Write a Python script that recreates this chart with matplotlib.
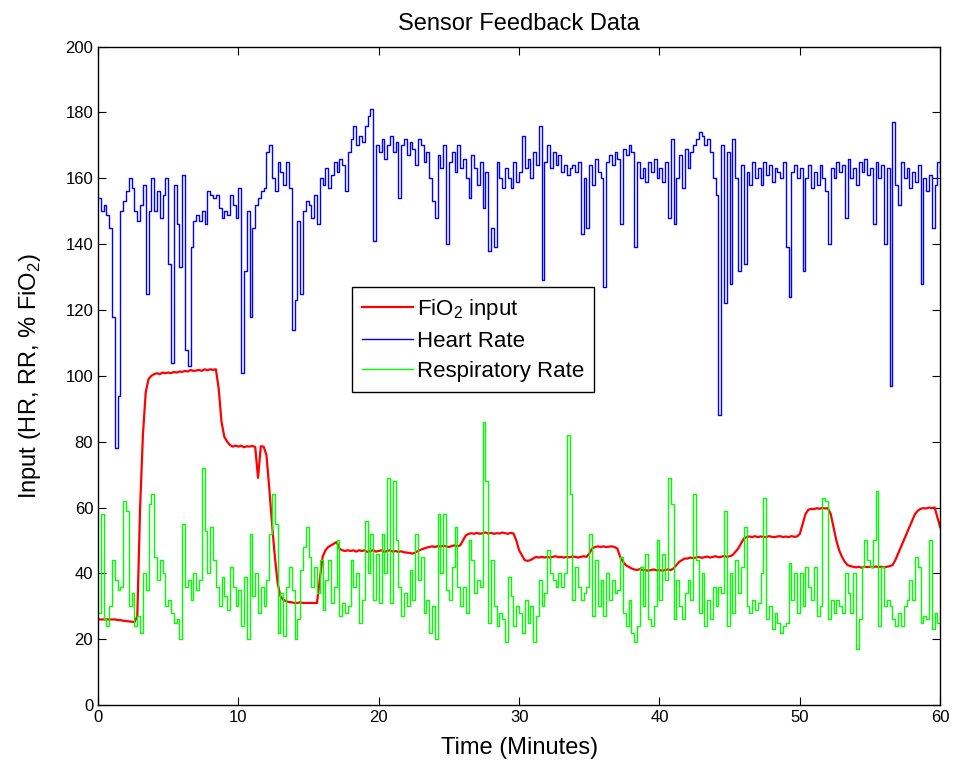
import numpy as np
import matplotlib
matplotlib.use("Agg")
import matplotlib.pyplot as plt

plt.rcParams['font.family'] = ['Liberation Sans', 'DejaVu Sans']
plt.rcParams['mathtext.fontset'] = 'custom'
plt.rcParams['mathtext.rm'] = 'Liberation Sans'

# samples every 0.2 minutes, 0 .. 60
SAMPLE_STEP = 0.2
N_SAMPLES = 301

# FiO2 input (%), one row per minute
fio2 = [
    26, 26, 26, 26, 26,
    26, 26, 25.8, 25.8, 25.6,
    25.5, 25.4, 25.3, 25.2, 27,
    60, 82, 95, 99, 100,
    100.5, 100.8, 100.5, 101, 100.8,
    101, 100.8, 101.2, 101, 101.3,
    101.2, 101.5, 101.3, 101.8, 101.5,
    101.6, 101.8, 101.5, 102, 101.7,
    102, 101.8, 102, 96, 86,
    81.5, 80, 79, 78.5, 78.8,
    78.5, 78.8, 78.3, 78.6, 78.5,
    78.7, 78.4, 69, 78.6, 78.5,
    76, 66, 55, 45, 37,
    33, 32, 31.5, 31.3, 31.2,
    31, 31, 31.2, 31, 31,
    31, 31, 31, 31, 38,
    45, 47, 48, 48.5, 49,
    49.5, 47.5, 47, 46.8, 47,
    46.8, 47, 46.6, 47, 46.8,
    47, 46.5, 46.8, 47, 46.6,
    46.8, 47, 46.5, 46.8, 47,
    46.6, 46.8, 46.5, 46.7, 46.4,
    46.3, 46.2, 46, 46.3, 46.8,
    47.2, 47.5, 47.8, 48, 48.2,
    48, 48.3, 48.1, 48.4, 48.2,
    48, 48.3, 48.5, 48.2, 48.5,
    50, 51.5, 52, 52.2, 52,
    52.3, 52, 52.2, 52.4, 52.1,
    52.3, 52, 52.2, 52.1, 52.4,
    52.2, 52, 52.3, 52.1, 50,
    47, 45.5, 44, 43.8, 44,
    44.5, 45, 44.8, 45, 44.8,
    45, 44.8, 45, 45.2, 44.9,
    45, 44.8, 45, 44.9, 45.1,
    45, 44.8, 45, 45.2, 45,
    46, 47.5, 48, 48.2, 48,
    48.2, 48, 48.1, 48.2, 48,
    47.5, 45, 43.5, 42.5, 42,
    41.5, 41.2, 41, 41.3, 41,
    41, 40.8, 41, 41.2, 40.9,
    41, 40.8, 41, 41.2, 41,
    41.5, 42.5, 43.5, 44, 44.5,
    44.5, 44.8, 44.6, 44.8, 45,
    44.7, 44.9, 45.1, 44.8, 45,
    45.2, 44.9, 45, 45.3, 45,
    45.2, 45.5, 46.5, 47.5, 49,
    50.5, 51, 51.2, 51, 51.3,
    51, 51.2, 51.1, 51, 51.3,
    51.1, 51, 51.2, 51.3, 51,
    51.2, 51, 51.3, 51.1, 51.2,
    52, 55, 58, 59.3, 59.6,
    59.5, 59.8, 59.6, 59.9, 59.7,
    59.8, 58, 54, 50, 47,
    45, 43.5, 42.5, 42.2, 42,
    41.8, 42, 41.7, 42, 41.9,
    42, 41.8, 42.1, 41.9, 42,
    41.8, 42, 42.2, 42.5, 44,
    46, 48, 50, 52, 54,
    56, 58, 59, 59.6, 59.8,
    59.7, 60, 59.8, 60, 57,
    54,
]

# heart rate (bpm)
heart_rate = [
    154, 150, 152, 149, 145,
    118, 78, 94, 150, 153,
    156, 160, 157, 150, 147,
    152, 158, 125, 150, 160,
    150, 156, 148, 155, 160,
    134, 104, 158, 146, 133,
    161, 108, 103, 139, 147,
    149, 147, 150, 146, 156,
    155, 154, 155, 151, 148,
    150, 149, 155, 152, 148,
    157, 101, 132, 150, 118,
    145, 152, 154, 156, 157,
    168, 170, 160, 156, 165,
    162, 158, 165, 157, 114,
    123, 147, 125, 150, 153,
    152, 148, 155, 146, 160,
    158, 163, 157, 161, 165,
    162, 166, 164, 156, 168,
    172, 176, 170, 173, 171,
    176, 179, 181, 141, 170,
    168, 172, 166, 170, 173,
    168, 171, 154, 170, 172,
    167, 171, 169, 164, 172,
    170, 165, 168, 160, 153,
    148, 167, 163, 170, 140,
    165, 168, 162, 170, 163,
    166, 160, 154, 167, 163,
    158, 165, 151, 162, 138,
    145, 139, 165, 160, 157,
    163, 160, 157, 165, 159,
    162, 173, 163, 166, 160,
    168, 164, 176, 129, 165,
    170, 163, 168, 164, 167,
    162, 164, 161, 163, 164,
    162, 165, 143, 160, 145,
    164, 158, 166, 162, 160,
    127, 165, 167, 164, 168,
    166, 146, 169, 167, 170,
    168, 139, 165, 160, 163,
    159, 165, 162, 166, 160,
    163, 159, 165, 148, 172,
    146, 160, 167, 157, 169,
    163, 168, 170, 172, 174,
    173, 170, 172, 168, 160,
    155, 88, 170, 122, 168,
    128, 172, 160, 132, 164,
    134, 162, 158, 165, 160,
    163, 158, 165, 161, 164,
    159, 163, 162, 160, 165,
    139, 124, 162, 164, 160,
    163, 132, 160, 164, 157,
    162, 158, 164, 160, 156,
    140, 163, 160, 165, 162,
    164, 148, 166, 160, 163,
    158, 165, 162, 166, 161,
    163, 146, 165, 160, 164,
    140, 163, 97, 177, 158,
    152, 165, 160, 163, 157,
    162, 159, 164, 128, 160,
    156, 161, 145, 158, 165,
    162,
]

# respiratory rate (breaths/min)
resp_rate = [
    28, 58, 26, 24, 30,
    44, 38, 35, 36, 62,
    59, 30, 34, 24, 27,
    22, 40, 35, 61, 64,
    45, 38, 44, 40, 30,
    32, 28, 25, 26, 20,
    55, 36, 38, 32, 40,
    35, 38, 72, 53, 40,
    54, 44, 36, 30, 39,
    33, 29, 42, 36, 30,
    35, 24, 39, 20, 52,
    33, 40, 28, 36, 30,
    38, 52, 64, 55, 22,
    34, 21, 36, 42, 35,
    20, 26, 41, 48, 54,
    45, 36, 42, 34, 44,
    29, 38, 44, 31, 36,
    50, 27, 31, 28, 30,
    44, 36, 40, 25, 32,
    56, 40, 52, 32, 46,
    31, 52, 40, 69, 31,
    68, 50, 36, 27, 34,
    30, 41, 32, 52, 38,
    45, 28, 32, 22, 30,
    20, 58, 40, 58, 35,
    32, 42, 54, 36, 30,
    36, 28, 50, 44, 34,
    38, 36, 86, 68, 25,
    44, 30, 24, 28, 26,
    19, 39, 33, 24, 30,
    28, 22, 32, 25, 30,
    19, 27, 38, 30, 34,
    47, 40, 38, 36, 40,
    36, 40, 82, 64, 32,
    42, 36, 32, 34, 36,
    52, 27, 44, 30, 38,
    27, 40, 32, 38, 34,
    35, 45, 28, 24, 32,
    22, 19, 24, 42, 30,
    46, 26, 24, 30, 50,
    32, 46, 38, 69, 61,
    26, 38, 30, 26, 34,
    38, 32, 64, 44, 28,
    40, 24, 32, 26, 36,
    30, 36, 34, 59, 24,
    40, 28, 44, 34, 42,
    54, 30, 28, 32, 29,
    31, 40, 63, 26, 30,
    23, 28, 25, 22, 24,
    25, 43, 32, 40, 28,
    40, 30, 42, 36, 32,
    42, 27, 30, 63, 62,
    26, 32, 28, 32, 30,
    28, 40, 34, 28, 40,
    17, 26, 42, 50, 44,
    42, 50, 65, 24, 42,
    30, 32, 30, 26, 24,
    28, 24, 30, 32, 38,
    32, 45, 42, 25, 27,
    26, 50, 23, 28, 25,
    27,
]

minutes = np.arange(N_SAMPLES) * SAMPLE_STEP

fig = plt.figure(figsize=(9.56, 7.7), dpi=100)
ax = fig.add_axes([0.1025, 0.0844, 0.881, 0.855])

ax.plot(minutes, fio2, color='#ff0000', lw=1.6, label='FiO$_2$ input')
ax.plot(minutes, heart_rate, color='#0000ff', lw=1.0, drawstyle='steps-post', label='Heart Rate')
ax.plot(minutes, resp_rate, color='#00ff00', lw=1.0, drawstyle='steps-post', label='Respiratory Rate')

ax.set_xlim(0, 60)
ax.set_ylim(0, 200)
ax.set_xticks(range(0, 61, 10))
ax.set_yticks(range(0, 201, 20))
ax.tick_params(direction='in', top=True, right=True, length=6, labelsize=12)
for sp in ax.spines.values():
    sp.set_linewidth(1.0)

ax.set_title('Sensor Feedback Data', fontsize=17, pad=12)
ax.set_xlabel('Time (Minutes)', fontsize=17, labelpad=9)
ax.set_ylabel('Input (HR, RR, % FiO$_2$)', fontsize=17, labelpad=16)

leg = ax.legend(loc='upper left', bbox_to_anchor=(0.302, 0.635), fontsize=16,
                fancybox=False, framealpha=1, edgecolor='black', handlelength=2.3,
                handletextpad=0.15, labelspacing=0.4, borderpad=0.45,
                borderaxespad=0)
leg.get_frame().set_linewidth(1.0)

fig.savefig('out.png', dpi=100)
